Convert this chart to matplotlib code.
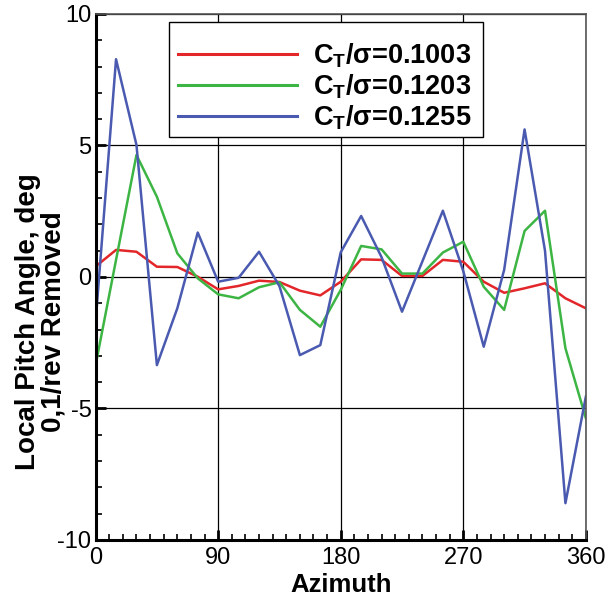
import numpy as np
import matplotlib.pyplot as plt
from matplotlib.patches import Rectangle
from matplotlib.ticker import MultipleLocator

plt.rcParams['font.family'] = ['Liberation Sans', 'DejaVu Sans']
plt.rcParams['mathtext.fontset'] = 'custom'
plt.rcParams['mathtext.rm'] = 'Liberation Sans:bold'
plt.rcParams['mathtext.it'] = 'Liberation Sans:bold'
plt.rcParams['mathtext.bf'] = 'Liberation Sans:bold'
plt.rcParams['axes.unicode_minus'] = False

# ========= data =========
azimuth = np.arange(0, 361, 15)

ct_1003 = [0.40, 1.03, 0.96, 0.39, 0.38, 0.01, -0.47, -0.34, -0.14, -0.19, -0.52, -0.70, -0.18,
           0.67, 0.65, 0.04, 0.04, 0.65, 0.58, -0.18, -0.60, -0.43, -0.24, -0.81, -1.19]
ct_1203 = [-3.35, 0.65, 4.64, 3.05, 0.90, -0.05, -0.66, -0.81, -0.39, -0.20, -1.25, -1.89, -0.49,
           1.18, 1.05, 0.13, 0.13, 0.93, 1.34, -0.37, -1.25, 1.75, 2.52, -2.71, -5.37]
ct_1255 = [-1.70, 8.28, 5.02, -3.35, -1.19, 1.69, -0.18, -0.03, 0.96, -0.35, -2.97, -2.59, 0.94,
           2.32, 0.75, -1.32, 0.60, 2.52, 0.22, -2.65, 0.27, 5.61, 1.00, -8.60, -4.55]

labels = ['C$_\\mathrm{T}$/σ=0.1003', 'C$_\\mathrm{T}$/σ=0.1203', 'C$_\\mathrm{T}$/σ=0.1255']
colors = ['#e3262a', '#3db544', '#4a5ab0']

# ========= plot =========
W, H = 609, 600
fig = plt.figure(figsize=(W / 100, H / 100), dpi=100)
ax = fig.add_axes([0.157, 0.10, 0.805, 0.8767])

for y, lab, c in zip([ct_1003, ct_1203, ct_1255], labels, colors):
    ax.plot(azimuth, y, color=c, lw=1.8, label=lab)

ax.set_xlim(0, 360)
ax.set_ylim(-10, 10)
ax.xaxis.set_major_locator(MultipleLocator(90))
ax.xaxis.set_minor_locator(MultipleLocator(10))
ax.yaxis.set_major_locator(MultipleLocator(5))
ax.yaxis.set_minor_locator(MultipleLocator(1))
ax.grid(True, which='major', color='black', lw=0.9)
ax.set_axisbelow(True)

ax.tick_params(which='both', direction='in', top=False, right=False, labelsize=17, width=1.2)
ax.tick_params(which='major', length=7, width=2)
ax.tick_params(which='minor', length=4)
ax.tick_params(axis='x', pad=5)
ax.tick_params(axis='y', pad=3)

for s in ['left', 'bottom']:
    ax.spines[s].set_linewidth(2.2)
for s in ['top', 'right']:
    ax.spines[s].set_linewidth(1.2)
    ax.spines[s].set_color('#555555')

ax.set_xlabel('Azimuth', fontsize=18.5, fontweight='bold', labelpad=3)
fig.text(41 / W, 1 - 322 / H, 'Local Pitch Angle, deg\n0,1/rev Removed', fontsize=20,
         fontweight='bold', rotation=90, ha='center', va='center', linespacing=0.95)

# legend box drawn separately (more room on top than the default frame gives)
box = Rectangle((169 / W, 1 - 137 / H), (483 - 169) / W, (137 - 22) / H,
                transform=fig.transFigure, facecolor='white', edgecolor='black',
                lw=1.0, zorder=4, clip_on=False)
ax.add_patch(box)
leg = ax.legend(loc='upper left', bbox_to_anchor=(178 / W, 1 - 41 / H),
                bbox_transform=fig.transFigure, fontsize=19.5, frameon=False,
                handlelength=4.4, handletextpad=0.6, borderpad=0, labelspacing=0.1,
                borderaxespad=0)
leg.set_zorder(5)
for t in leg.get_texts():
    t.set_fontweight('bold')
for l in leg.get_lines():
    l.set_linewidth(2.2)

plt.savefig('out.png', dpi=100)
